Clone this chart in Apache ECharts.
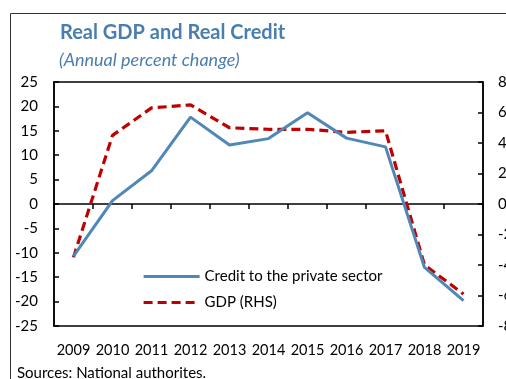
<!DOCTYPE html>
<html><head><meta charset="utf-8">
<script src="https://cdn.jsdelivr.net/npm/echarts@6/dist/echarts.min.js"></script>
<style>html,body{margin:0;padding:0;background:#fff}#c{width:506px;height:379px}</style>
</head><body><div id="c"></div>
<script>
var years = ['2009','2010','2011','2012','2013','2014','2015','2016','2017','2018','2019'];
var credit = [-10.7, 0.7, 6.8, 17.8, 12.1, 13.4, 18.7, 13.5, 11.7, -13.0, -19.8];
var gdp = [-3.5, 4.5, 6.3, 6.5, 5.0, 4.9, 4.9, 4.7, 4.8, -4.0, -5.9];
var titleText = 'Real GDP and Real Credit';
var subtitleText = '(Annual percent change)';
var sourceText = 'Sources: National authorites.';
var FONT = 'Lato';
var chart = echarts.init(document.getElementById('c'), null, {renderer:'canvas'});
chart.setOption({
  animation:false,
  backgroundColor:'#fff',
  textStyle:{fontFamily:FONT},
  title:[
    {text:titleText, left:55, top:18, textStyle:{fontFamily:FONT, fontSize:20, fontWeight:'bold', color:'#4a7eae'}},
    {text:subtitleText, left:54, top:46, textStyle:{fontFamily:FONT, fontSize:18, fontStyle:'italic', fontWeight:'normal', color:'#4a7eae'}},
    {text:sourceText, left:12, top:361, textStyle:{fontFamily:FONT, fontSize:15, fontWeight:'normal', color:'#000'}}
  ],
  graphic:[{type:'rect', shape:{x:10.5, y:13.5, width:520, height:400}, style:{fill:null, stroke:'#333', lineWidth:1}, silent:true, z:-1}],
  legend:{orient:'vertical', left:137, top:264, itemWidth:56, itemHeight:10, itemGap:11,
    itemStyle:{opacity:0}, lineStyle:{width:3.2},
    textStyle:{fontFamily:FONT, fontSize:15, color:'#000'}, data:['Credit to the private sector','GDP (RHS)']},
  grid:{left:54, right:23, top:82, bottom:53, containLabel:false, outerBoundsMode:'none', show:true, borderColor:'#000', borderWidth:1.5, backgroundColor:'transparent'},
  xAxis:[
    {type:'category', data:years, position:'bottom', boundaryGap:true,
     axisLine:{show:false, onZero:false}, axisTick:{show:false},
     axisLabel:{interval:0, fontFamily:FONT, fontSize:14.5, color:'#000', margin:17}},
    {type:'category', data:years, position:'top', boundaryGap:true,
     axisLine:{show:true, onZero:true, lineStyle:{color:'#000', width:1.5}},
     axisTick:{show:true, inside:true, length:5, lineStyle:{color:'#000', width:1.5}},
     axisLabel:{show:false}}
  ],
  yAxis:[
    {type:'value', min:-25, max:25, interval:5, position:'left',
     axisLine:{show:true, lineStyle:{color:'#000', width:1.5}},
     axisTick:{show:true, inside:true, length:5, lineStyle:{color:'#000', width:1.5}},
     splitLine:{show:false},
     axisLabel:{fontFamily:FONT, fontSize:15, color:'#000', margin:16}},
    {type:'value', min:-8, max:8, interval:2, position:'right',
     axisLine:{show:true, lineStyle:{color:'#000', width:1.5}},
     axisTick:{show:true, inside:true, length:5, lineStyle:{color:'#000', width:1.5}},
     splitLine:{show:false},
     axisLabel:{fontFamily:FONT, fontSize:15, color:'#000', margin:15}}
  ],
  series:[
    {name:'Credit to the private sector', type:'line', data:credit, xAxisIndex:0, yAxisIndex:0,
     symbol:'none', lineStyle:{color:'#4f87b6', width:3}, itemStyle:{color:'#4f87b6'}, z:3},
    {name:'GDP (RHS)', type:'line', data:gdp, xAxisIndex:0, yAxisIndex:1,
     symbol:'none', lineStyle:{color:'#c00000', width:3.2, type:[9,5]}, itemStyle:{color:'#c00000'}, z:2}
  ]
});
</script></body></html>
